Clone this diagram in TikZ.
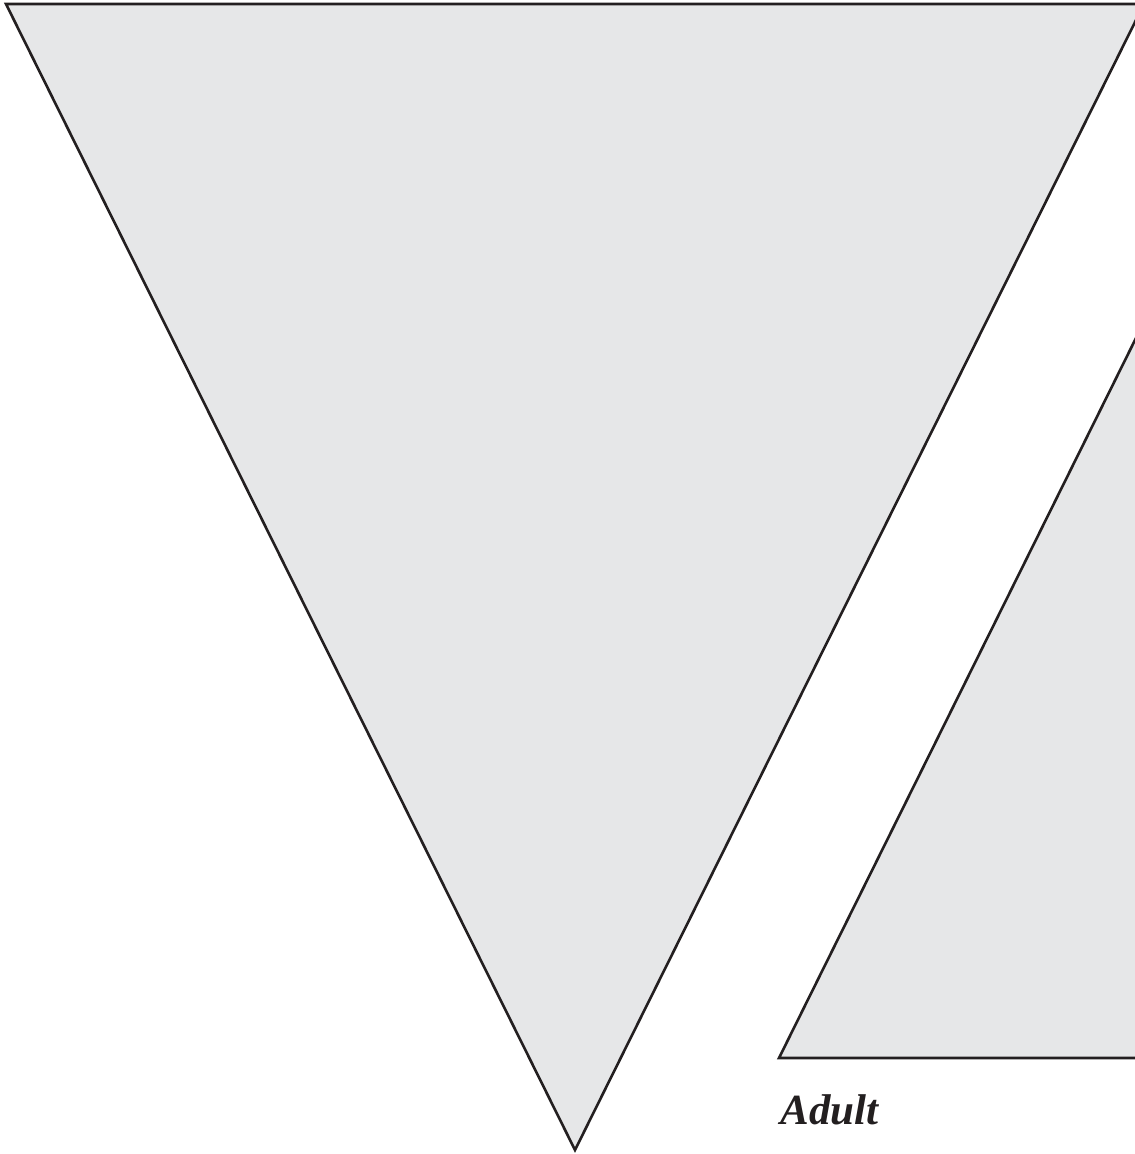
\documentclass[tikz,border=0pt]{standalone}
\usepackage{fontspec}
\setmainfont{Liberation Serif}
\definecolor{shapefill}{HTML}{E6E7E8}
\definecolor{shapeline}{HTML}{231F20}

\begin{document}
\begin{tikzpicture}[x=1pt,y=-1pt,
                    thick,tri/.style={draw=shapeline,fill=shapefill,line width=2.6pt,line join=miter},
                    stage label/.style={inner sep=0pt,anchor=base west,text=shapeline,font=\fontsize{43}{50}\selectfont\bfseries\itshape}]
\useasboundingbox (0,0) rectangle (1135,1154);
\clip (0,0) rectangle (1135,1154);
%%%%%
\coordinate (big tl) at (6,4);
  \coordinate (big tr) at (1144,4);
  \coordinate (big apex) at (575,1150);
\coordinate (small apex) at (1136,338);
  \coordinate (small bl) at (779,1058);
  \coordinate (small br) at (1493,1058);
  %%%%%%%
\draw[tri] (big tl) -- (big tr) -- (big apex) -- cycle;
\draw[tri] (small apex) -- (small br) -- (small bl) -- cycle;
%%%%%
\node[stage label] (adult) at (780,1124) {Adult};
\end{tikzpicture}
\end{document}
